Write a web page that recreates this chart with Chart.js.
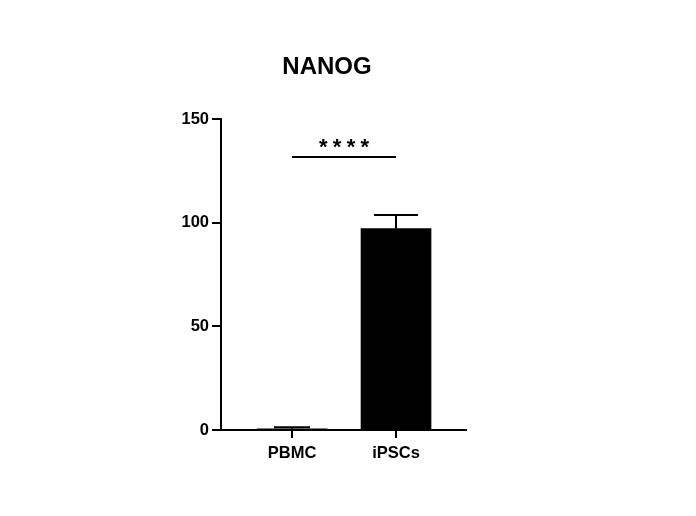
<!DOCTYPE html>
<html>
<head>
<meta charset="utf-8">
<script src="https://cdn.jsdelivr.net/npm/chart.js@4/dist/chart.umd.min.js"></script>
<style>
  html, body { margin: 0; padding: 0; background: #fff; }
  #wrap { width: 696px; height: 516px; }
</style>
</head>
<body>
<div id="wrap"><canvas id="chart" width="696" height="516"></canvas></div>
<script>
const title = "NANOG";
const categories = ["PBMC", "iPSCs"];
const means = [0.6, 97.2];
const sems = [0.7, 6.5];
const yTicks = [0, 50, 100, 150];
const sigLabel = "****";
const sigY = 131.7;

const font = "'Liberation Sans', Arial, sans-serif";

// error bars, bracket and title drawn on top of the bars
const extras = {
    id: "extras",
    afterDatasetsDraw(chart) {
        const ctx = chart.ctx;
        const x = chart.scales.x;
        const y = chart.scales.y;
        const caps = [36, 44];

        ctx.save();
        ctx.strokeStyle = "#000";
        ctx.lineWidth = 2;

        categories.forEach((c, i) => {
            const cx = x.getPixelForValue(i + 1);
            const top = y.getPixelForValue(means[i] + sems[i]);
            const base = y.getPixelForValue(means[i]);
            ctx.beginPath();
            ctx.moveTo(cx, base);
            ctx.lineTo(cx, top);
            ctx.moveTo(cx - caps[i] / 2, top);
            ctx.lineTo(cx + caps[i] / 2, top);
            ctx.stroke();
        });

        const x1 = x.getPixelForValue(1);
        const x2 = x.getPixelForValue(2);
        const ly = y.getPixelForValue(sigY);
        ctx.beginPath();
        ctx.moveTo(x1, ly);
        ctx.lineTo(x2, ly);
        ctx.stroke();

        ctx.fillStyle = "#000";
        ctx.font = "bold 22px " + font;
        ctx.textAlign = "center";
        ctx.textBaseline = "middle";
        const mid = (x1 + x2) / 2;
        const step = 13.8;
        [...sigLabel].forEach((s, k) => {
            ctx.fillText(s, mid + (k - (sigLabel.length - 1) / 2) * step, ly - 9.5);
        });

        ctx.font = "bold 24px " + font;
        ctx.fillText(title, 327, 67);
        ctx.restore();
    }
};

new Chart(document.getElementById("chart"), {
    type: "bar",
    data: {
        datasets: [{
            data: categories.map((c, i) => ({ x: i + 1, y: means[i] })),
            backgroundColor: "#000",
            borderColor: "#000",
            borderWidth: 0,
            barThickness: 70
        }]
    },
    options: {
        responsive: false,
        animation: false,
        layout: { padding: { left: 161, right: 230, top: 119, bottom: 46 } },
        plugins: {
            legend: { display: false },
            tooltip: { enabled: false }
        },
        scales: {
            x: {
                type: "linear",
                offset: false,
                min: 0.317,
                max: 2.673,
                afterBuildTicks: s => { s.ticks = categories.map((c, i) => ({ value: i + 1 })); },
                afterFit: s => { s.height = 40; },
                border: { display: true, color: "#000", width: 2 },
                grid: { offset: false, drawOnChartArea: false, drawTicks: true, tickLength: 8, color: "#000", lineWidth: 2 },
                ticks: {
                    callback: v => categories[v - 1] ?? "",
                    color: "#000",
                    font: { family: font, size: 16.5, weight: "bold" },
                    padding: 6,
                    maxRotation: 0,
                    autoSkip: false
                }
            },
            y: {
                min: 0,
                max: 150,
                afterBuildTicks: s => { s.ticks = yTicks.map(v => ({ value: v })); },
                afterFit: s => { s.width = 60; },
                border: { display: true, color: "#000", width: 2 },
                grid: { drawOnChartArea: false, drawTicks: true, tickLength: 9, color: "#000", lineWidth: 2 },
                ticks: {
                    color: "#000",
                    font: { family: font, size: 16.5, weight: "bold" },
                    padding: 3
                }
            }
        }
    },
    plugins: [extras]
});
</script>
</body>
</html>
